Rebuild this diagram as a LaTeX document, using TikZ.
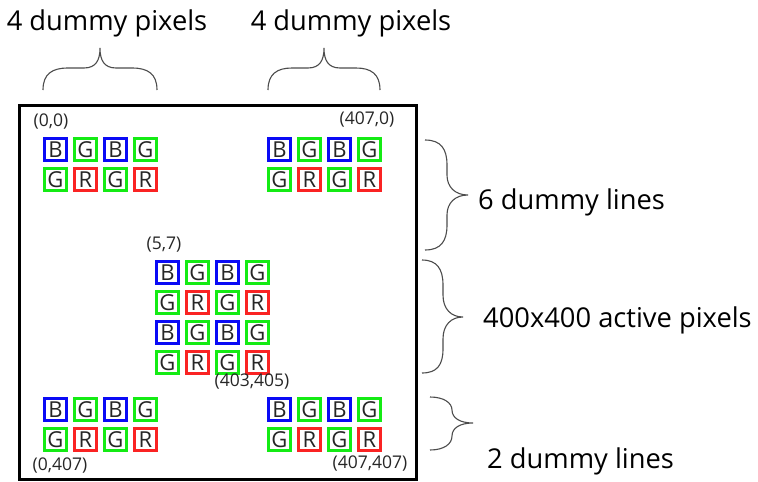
\documentclass[tikz,border=0pt]{standalone}
\usepackage{fontspec}
\setmainfont{Open Sans}
\definecolor{pxB}{RGB}{10,10,245}
\definecolor{pxG}{RGB}{20,235,20}
\definecolor{pxR}{RGB}{250,35,35}
\begin{document}
\begin{tikzpicture}[x=1pt,y=-1pt,
  cell/.style={draw, line width=3pt, minimum size=22pt, inner sep=0pt,
    font=\fontsize{22}{22}\selectfont, text=black!85},
  coordlbl/.style={font=\fontsize{17.5}{17.5}\selectfont, inner sep=0pt, text=black!85},
  biglbl/.style={font=\fontsize{27.3}{30}\selectfont, inner sep=0pt, text=black},
  frame/.style={draw=black, line width=3pt},
  bracestyle/.style={draw=black!70, line width=1.1pt}]
\useasboundingbox (0,0) rectangle (758,482);

% sensor frame
\draw[frame] (19.7,105.5) rectangle (416.5,479.5);

% pixel blocks
\foreach \bx/\by/\bn/\nr in {43/137/tl/2, 267/137/tr/2, 155/260/mid/4, 43/397/bl/2, 267/397/br/2}{
  \foreach \r in {1,...,\nr}{
    \foreach \c in {1,...,4}{
      \pgfmathtruncatemacro{\ro}{mod(\r,2)}
      \pgfmathtruncatemacro{\co}{mod(\c,2)}
      \ifnum\ro=1
        \ifnum\co=1 \def\L{B}\else\def\L{G}\fi
      \else
        \ifnum\co=1 \def\L{G}\else\def\L{R}\fi
      \fi
      \node[cell, draw=px\L] (\bn-\r-\c) at ({\bx+12.5+30*(\c-1)}, {\by+12.5+30*(\r-1)}) {\L};
    }
  }
}

% coordinate labels
\node[coordlbl] (c00) at (51,122) {(0,0)};
\node[coordlbl] (c4070) at (367,120) {(407,0)};
\node[coordlbl] (c57) at (164,245) {(5,7)};
\node[coordlbl] (c403) at (252,382) {(403,405)};
\node[coordlbl] (c0407) at (60,466) {(0,407)};
\node[coordlbl] (c407407) at (370,464) {(407,407)};

% big labels
\node[biglbl] (ltop) at (107,23) {4 dummy pixels};
\node[biglbl] (rtop) at (351,23) {4 dummy pixels};
\node[biglbl, anchor=west] (l6) at (478,202) {6 dummy lines};
\node[biglbl, anchor=west] (l400) at (483,320) {400x400 active pixels};
\node[biglbl, anchor=west] (l2) at (487,461) {2 dummy lines};

% braces
\draw[bracestyle] (43,90) .. controls (43,74) and (52,68) .. (68,68) -- (84,68)
  .. controls (96,68) and (100,60) .. (100,48)
  .. controls (100,60) and (104,68) .. (116,68) -- (132,68)
  .. controls (148,68) and (157,74) .. (157,90);
\draw[bracestyle] (268,90) .. controls (268,74) and (277,68) .. (292,68) -- (308,68)
  .. controls (320,68) and (324,60) .. (324,48)
  .. controls (324,60) and (328,68) .. (340,68) -- (356,68)
  .. controls (371,68) and (380,74) .. (380,90);
\draw[bracestyle] (425,140) .. controls (441,140) and (447,149) .. (447,165) -- (447,175)
  .. controls (447,187) and (455,195) .. (468,195)
  .. controls (455,195) and (447,203) .. (447,215) -- (447,225)
  .. controls (447,241) and (441,250) .. (425,250);
\draw[bracestyle] (422,260) .. controls (437,260) and (443,269) .. (443,285) -- (443,295)
  .. controls (443,309) and (451,317) .. (463,317)
  .. controls (451,317) and (443,325) .. (443,339) -- (443,349)
  .. controls (443,365) and (437,373) .. (422,373);
\draw[bracestyle] (430,397) .. controls (444,397) and (452,403) .. (452,410)
  .. controls (452,418) and (460,423) .. (473,423)
  .. controls (460,423) and (452,428) .. (452,436)
  .. controls (452,444) and (444,450) .. (430,450);
\end{tikzpicture}
\end{document}
